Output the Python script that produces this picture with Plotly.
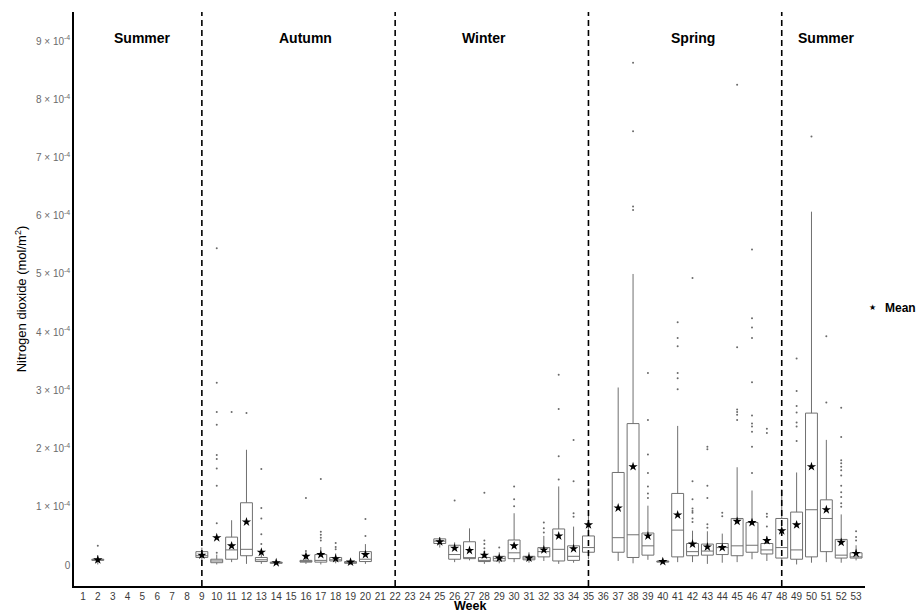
import plotly.graph_objects as go

# Weekly nitrogen dioxide column statistics, in units of 1e-4 mol/m^2
UNIT = 1e-4
weeks = [2, 9, 10, 11, 12, 13, 14, 16, 17, 18, 19, 20,
         25, 26, 27, 28, 29, 30, 31, 32, 33, 34, 35,
         37, 38, 39, 40, 41, 42, 43, 44, 45, 46, 47,
         48, 49, 50, 51, 52, 53]
q1 = [0.08, 0.13, 0.04, 0.10, 0.16, 0.06, 0.03, 0.05, 0.05, 0.07, 0.03, 0.06,
      0.37, 0.10, 0.11, 0.06, 0.07, 0.11, 0.09, 0.14, 0.07, 0.08, 0.22,
      0.22, 0.13, 0.17, 0.05, 0.14, 0.16, 0.17, 0.18, 0.16, 0.22, 0.19,
      0.12, 0.10, 0.14, 0.23, 0.12, 0.12]
median = [0.09, 0.16, 0.07, 0.26, 0.27, 0.09, 0.04, 0.06, 0.08, 0.09, 0.05, 0.10,
          0.41, 0.18, 0.12, 0.08, 0.11, 0.21, 0.12, 0.23, 0.27, 0.15, 0.30,
          0.47, 0.52, 0.33, 0.06, 0.60, 0.23, 0.24, 0.30, 0.33, 0.34, 0.26,
          0.30, 0.26, 0.95, 0.80, 0.17, 0.14]
q3 = [0.10, 0.23, 0.10, 0.48, 1.07, 0.13, 0.05, 0.08, 0.18, 0.13, 0.06, 0.23,
      0.45, 0.34, 0.40, 0.13, 0.15, 0.43, 0.15, 0.30, 0.62, 0.33, 0.50,
      1.59, 2.43, 0.55, 0.07, 1.23, 0.37, 0.36, 0.37, 0.80, 0.73, 0.37,
      0.80, 0.91, 2.61, 1.12, 0.44, 0.21]
whisker_low = [0.01, 0.08, 0.01, 0.05, 0.02, 0.02, 0.01, 0.02, 0.01, 0.03, 0.01, 0.02,
               0.30, 0.05, 0.08, 0.02, 0.03, 0.05, 0.04, 0.07, 0.02, 0.04, 0.10,
               0.07, 0.03, 0.09, 0.04, 0.05, 0.05, 0.02, 0.04, 0.05, 0.10, 0.07,
               0.02, 0.01, 0.04, 0.05, 0.04, 0.08]
whisker_high = [0.17, 0.30, 0.18, 0.77, 1.98, 0.22, 0.07, 0.12, 0.31, 0.20, 0.08, 0.36,
                0.48, 0.39, 0.63, 0.20, 0.22, 0.89, 0.22, 0.50, 1.35, 0.66, 0.85,
                3.05, 5.00, 1.02, 0.08, 2.39, 0.59, 0.58, 0.54, 1.68, 1.28, 0.50,
                1.30, 1.59, 6.07, 2.15, 0.87, 0.34]
mean = [0.09, 0.17, 0.47, 0.33, 0.74, 0.22, 0.04, 0.15, 0.18, 0.11, 0.05, 0.18,
        0.40, 0.29, 0.25, 0.17, 0.12, 0.33, 0.12, 0.26, 0.50, 0.28, 0.69,
        0.98, 1.69, 0.50, 0.06, 0.86, 0.36, 0.31, 0.30, 0.75, 0.73, 0.42,
        0.59, 0.69, 1.69, 0.95, 0.39, 0.20]
outliers = [
    [0.33], [],
    [5.44, 3.13, 2.63, 2.41, 1.89, 1.82, 1.66, 1.36, 0.72, 0.21],
    [2.63], [2.61], [1.65, 0.98, 0.80, 0.53, 0.36], [],
    [1.15, 0.24], [1.48, 0.57, 0.52, 0.47, 0.42], [0.38, 0.31, 0.27], [], [0.79, 0.50],
    [], [1.11], [], [1.24, 0.42, 0.36, 0.29, 0.23], [0.30], [1.35, 1.13, 1.01], [],
    [0.73, 0.63, 0.56], [3.27, 2.68, 1.87, 1.47], [2.15, 1.44, 0.89, 0.83], [1.30],
    [], [8.63, 7.45, 6.16, 6.10], [3.30, 2.49, 1.90, 1.58, 1.35, 1.23, 1.15], [],
    [4.17, 3.90, 3.76, 3.30, 3.21, 3.02],
    [4.93, 1.44, 1.13, 0.97, 0.93, 0.90, 0.80, 0.74],
    [2.03, 1.99, 1.36, 1.15, 0.70, 0.64], [0.90, 0.84],
    [8.25, 3.74, 2.67, 2.63, 2.58, 2.49],
    [5.42, 4.24, 4.08, 3.90, 3.14, 2.57, 2.43, 2.38, 2.29, 2.03, 1.58],
    [2.34, 2.27, 0.88, 0.83, 0.66],
    [], [3.55, 2.99, 2.73, 2.62, 2.45, 2.38, 2.13], [7.36], [3.93, 2.79],
    [2.70, 2.20, 1.80, 1.75, 1.69, 1.63, 1.54, 1.36, 1.25, 1.17, 1.06, 1.00],
    [0.58, 0.48, 0.42],
]

# Season boundaries and labels
season_breaks = [9, 22, 35, 48]
season_names = ["Summer", "Autumn", "Winter", "Spring", "Summer"]
season_label_week = [5, 16, 28, 42, 51]

y_ticks = list(range(0, 10))
y_ticktext = ["0"] + [f"{k} \u00d7 10<sup>-4</sup>" for k in y_ticks[1:]]

scale = lambda vals: [v * UNIT for v in vals]

fig = go.Figure()

fig.add_trace(go.Box(
    x=weeks, q1=scale(q1), median=scale(median), q3=scale(q3),
    lowerfence=scale(whisker_low), upperfence=scale(whisker_high),
    width=0.8, whiskerwidth=0, fillcolor="white",
    line=dict(color="#707070", width=1), boxpoints=False,
    showlegend=False, hoverinfo="skip",
))

ox, oy = [], []
for w, pts in zip(weeks, outliers):
    ox += [w] * len(pts)
    oy += scale(pts)
fig.add_trace(go.Scatter(
    x=ox, y=oy, mode="markers",
    marker=dict(size=2, color="#6a6a6a"),
    showlegend=False, hoverinfo="skip",
))

fig.add_trace(go.Scatter(
    x=weeks, y=scale(mean), mode="markers", name="Mean",
    marker=dict(symbol="star", size=7, color="black"),
    showlegend=False,
))

for b in season_breaks:
    fig.add_shape(type="line", xref="x", yref="paper", x0=b, x1=b, y0=0, y1=1,
                  line=dict(color="black", width=1.6, dash="6px,4px"), layer="above")

for name, w in zip(season_names, season_label_week):
    fig.add_annotation(x=w, y=0.972, xref="x", yref="paper", text=f"<b>{name}</b>",
                       showarrow=False, font=dict(size=14, color="black"))

# Key for the mean marker, to the right of the panel
fig.add_annotation(x=1.0, y=0.4845, xref="paper", yref="paper", xshift=7,
                   text="\u2605", showarrow=False, xanchor="center", yanchor="middle",
                   font=dict(size=8, color="black"))
fig.add_annotation(x=1.0, y=0.4845, xref="paper", yref="paper", xshift=18,
                   text="<b>Mean</b>", showarrow=False, xanchor="left", yanchor="middle",
                   font=dict(size=12, color="black"))

# Horizontal axis title
fig.add_annotation(x=0.5, y=0, xref="paper", yref="paper", yshift=-28,
                   text="<b>Week</b>", showarrow=False, xanchor="center", yanchor="bottom",
                   font=dict(size=12.5, color="black"), borderpad=0)

fig.update_layout(
    width=924, height=614,
    margin=dict(l=74, r=59, t=12, b=28, autoexpand=False),
    plot_bgcolor="white", paper_bgcolor="white",
    font=dict(family="Liberation Sans, Arial, sans-serif", color="black"),
    showlegend=False,
)
fig.update_xaxes(
    range=[0.4, 53.6], tickmode="array", tickvals=list(range(1, 54)),
    ticktext=[str(i) for i in range(1, 54)],
    tickfont=dict(size=10, color="#3a3a3a"), ticks="", ticklen=0,
    showline=True, linecolor="black", linewidth=1.5, showgrid=False, zeroline=False,
)
fig.update_yaxes(
    range=[-0.36 * UNIT, 9.5 * UNIT], tickmode="array",
    tickvals=[t * UNIT for t in y_ticks], ticktext=y_ticktext,
    tickfont=dict(size=10, color="#6b6b6b"), ticks="",
    showline=True, linecolor="black", linewidth=1.5, showgrid=False, zeroline=False,
    title=dict(text="Nitrogen dioxide (mol/m<sup>2</sup>)", font=dict(size=13), standoff=6),
)

fig.write_html("out.html")
